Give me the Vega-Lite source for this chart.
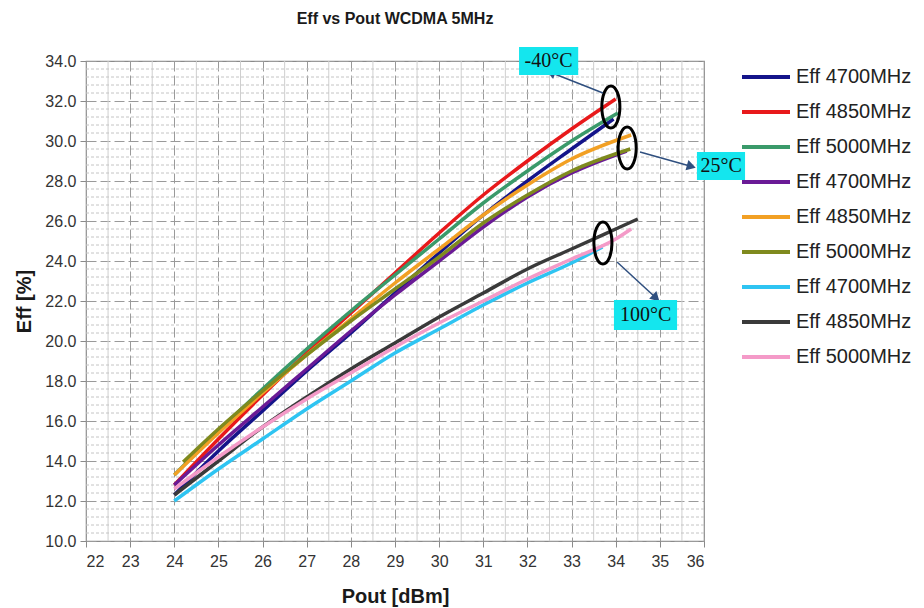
{
  "$schema": "https://vega.github.io/schema/vega-lite/v6.json",
  "width": 618,
  "height": 480,
  "autosize": {"type": "none"},
  "padding": {"left": 86, "top": 61, "right": 220, "bottom": 67},
  "background": "white",
  "config": {
    "view": {"stroke": "#8a8a8a", "strokeWidth": 1.2},
    "font": "Liberation Sans",
    "axisX": {
      "grid": true, "gridColor": "#9a9a9a", "gridDash": [10, 4], "gridWidth": 1,
      "domain": false, "ticks": true, "tickColor": "#8a8a8a", "tickSize": 6,
      "labelFont": "Liberation Sans", "labelFontSize": 16, "labelColor": "#333333", "labelPadding": 6,
      "titleFont": "Liberation Sans", "titleFontSize": 20, "titleFontWeight": "bold", "titleColor": "#1a1a1a",
      "titlePadding": 17
    },
    "axisY": {
      "grid": true, "gridColor": "#9a9a9a", "gridDash": [10, 4], "gridWidth": 1,
      "domain": false, "ticks": true, "tickColor": "#8a8a8a", "tickSize": 6,
      "labelFont": "Liberation Sans", "labelFontSize": 16, "labelColor": "#333333", "labelPadding": 4,
      "titleFont": "Liberation Sans", "titleFontSize": 20, "titleFontWeight": "bold", "titleColor": "#1a1a1a",
      "titlePadding": 10
    }
  },
  "title": {
    "text": "Eff vs Pout  WCDMA 5MHz",
    "font": "Liberation Sans",
    "fontSize": 16,
    "fontWeight": "bold",
    "color": "#1a1a1a",
    "anchor": "middle",
    "offset": 20
  },
  "datasets": {
    "curves": [
      {"series": "Eff 4700MHz|-40°C", "pout": 24, "eff": 12.3},
      {"series": "Eff 4700MHz|-40°C", "pout": 25, "eff": 14.5},
      {"series": "Eff 4700MHz|-40°C", "pout": 26, "eff": 16.5},
      {"series": "Eff 4700MHz|-40°C", "pout": 27, "eff": 18.5},
      {"series": "Eff 4700MHz|-40°C", "pout": 28, "eff": 20.4},
      {"series": "Eff 4700MHz|-40°C", "pout": 29, "eff": 22.4},
      {"series": "Eff 4700MHz|-40°C", "pout": 30, "eff": 24.4},
      {"series": "Eff 4700MHz|-40°C", "pout": 31, "eff": 26.3},
      {"series": "Eff 4700MHz|-40°C", "pout": 32, "eff": 28.0},
      {"series": "Eff 4700MHz|-40°C", "pout": 33, "eff": 29.6},
      {"series": "Eff 4700MHz|-40°C", "pout": 33.95, "eff": 31.1},
      {"series": "Eff 4850MHz|-40°C", "pout": 24, "eff": 12.8},
      {"series": "Eff 4850MHz|-40°C", "pout": 25, "eff": 15.1},
      {"series": "Eff 4850MHz|-40°C", "pout": 26, "eff": 17.3},
      {"series": "Eff 4850MHz|-40°C", "pout": 27, "eff": 19.4},
      {"series": "Eff 4850MHz|-40°C", "pout": 28, "eff": 21.4},
      {"series": "Eff 4850MHz|-40°C", "pout": 29, "eff": 23.4},
      {"series": "Eff 4850MHz|-40°C", "pout": 30, "eff": 25.4},
      {"series": "Eff 4850MHz|-40°C", "pout": 31, "eff": 27.3},
      {"series": "Eff 4850MHz|-40°C", "pout": 32, "eff": 29.0},
      {"series": "Eff 4850MHz|-40°C", "pout": 33, "eff": 30.6},
      {"series": "Eff 4850MHz|-40°C", "pout": 34, "eff": 32.1},
      {"series": "Eff 5000MHz|-40°C", "pout": 24, "eff": 13.3},
      {"series": "Eff 5000MHz|-40°C", "pout": 25, "eff": 15.5},
      {"series": "Eff 5000MHz|-40°C", "pout": 26, "eff": 17.6},
      {"series": "Eff 5000MHz|-40°C", "pout": 27, "eff": 19.6},
      {"series": "Eff 5000MHz|-40°C", "pout": 28, "eff": 21.5},
      {"series": "Eff 5000MHz|-40°C", "pout": 29, "eff": 23.3},
      {"series": "Eff 5000MHz|-40°C", "pout": 30, "eff": 25.1},
      {"series": "Eff 5000MHz|-40°C", "pout": 31, "eff": 26.9},
      {"series": "Eff 5000MHz|-40°C", "pout": 32, "eff": 28.5},
      {"series": "Eff 5000MHz|-40°C", "pout": 33, "eff": 30.0},
      {"series": "Eff 5000MHz|-40°C", "pout": 34.05, "eff": 31.4},
      {"series": "Eff 4700MHz|25°C", "pout": 24, "eff": 12.8},
      {"series": "Eff 4700MHz|25°C", "pout": 25, "eff": 14.8},
      {"series": "Eff 4700MHz|25°C", "pout": 26, "eff": 16.7},
      {"series": "Eff 4700MHz|25°C", "pout": 27, "eff": 18.6},
      {"series": "Eff 4700MHz|25°C", "pout": 28, "eff": 20.5},
      {"series": "Eff 4700MHz|25°C", "pout": 29, "eff": 22.3},
      {"series": "Eff 4700MHz|25°C", "pout": 30, "eff": 24.0},
      {"series": "Eff 4700MHz|25°C", "pout": 31, "eff": 25.7},
      {"series": "Eff 4700MHz|25°C", "pout": 32, "eff": 27.2},
      {"series": "Eff 4700MHz|25°C", "pout": 33, "eff": 28.4},
      {"series": "Eff 4700MHz|25°C", "pout": 34.25, "eff": 29.5},
      {"series": "Eff 4850MHz|25°C", "pout": 24, "eff": 13.3},
      {"series": "Eff 4850MHz|25°C", "pout": 25, "eff": 15.4},
      {"series": "Eff 4850MHz|25°C", "pout": 26, "eff": 17.4},
      {"series": "Eff 4850MHz|25°C", "pout": 27, "eff": 19.3},
      {"series": "Eff 4850MHz|25°C", "pout": 28, "eff": 21.1},
      {"series": "Eff 4850MHz|25°C", "pout": 29, "eff": 22.9},
      {"series": "Eff 4850MHz|25°C", "pout": 30, "eff": 24.6},
      {"series": "Eff 4850MHz|25°C", "pout": 31, "eff": 26.3},
      {"series": "Eff 4850MHz|25°C", "pout": 32, "eff": 27.8},
      {"series": "Eff 4850MHz|25°C", "pout": 33, "eff": 29.1},
      {"series": "Eff 4850MHz|25°C", "pout": 34.35, "eff": 30.3},
      {"series": "Eff 5000MHz|25°C", "pout": 24.2, "eff": 13.95},
      {"series": "Eff 5000MHz|25°C", "pout": 25, "eff": 15.6},
      {"series": "Eff 5000MHz|25°C", "pout": 26, "eff": 17.5},
      {"series": "Eff 5000MHz|25°C", "pout": 27, "eff": 19.3},
      {"series": "Eff 5000MHz|25°C", "pout": 28, "eff": 21.0},
      {"series": "Eff 5000MHz|25°C", "pout": 29, "eff": 22.6},
      {"series": "Eff 5000MHz|25°C", "pout": 30, "eff": 24.2},
      {"series": "Eff 5000MHz|25°C", "pout": 31, "eff": 25.9},
      {"series": "Eff 5000MHz|25°C", "pout": 32, "eff": 27.3},
      {"series": "Eff 5000MHz|25°C", "pout": 33, "eff": 28.5},
      {"series": "Eff 5000MHz|25°C", "pout": 34.33, "eff": 29.6},
      {"series": "Eff 4700MHz|100°C", "pout": 24, "eff": 12.0},
      {"series": "Eff 4700MHz|100°C", "pout": 25, "eff": 13.6},
      {"series": "Eff 4700MHz|100°C", "pout": 26, "eff": 15.1},
      {"series": "Eff 4700MHz|100°C", "pout": 27, "eff": 16.6},
      {"series": "Eff 4700MHz|100°C", "pout": 28, "eff": 18.0},
      {"series": "Eff 4700MHz|100°C", "pout": 29, "eff": 19.4},
      {"series": "Eff 4700MHz|100°C", "pout": 30, "eff": 20.6},
      {"series": "Eff 4700MHz|100°C", "pout": 31, "eff": 21.8},
      {"series": "Eff 4700MHz|100°C", "pout": 32, "eff": 22.9},
      {"series": "Eff 4700MHz|100°C", "pout": 33, "eff": 23.9},
      {"series": "Eff 4700MHz|100°C", "pout": 33.7, "eff": 24.7},
      {"series": "Eff 4850MHz|100°C", "pout": 24, "eff": 12.3},
      {"series": "Eff 4850MHz|100°C", "pout": 25, "eff": 14.0},
      {"series": "Eff 4850MHz|100°C", "pout": 26, "eff": 15.7},
      {"series": "Eff 4850MHz|100°C", "pout": 27, "eff": 17.2},
      {"series": "Eff 4850MHz|100°C", "pout": 28, "eff": 18.6},
      {"series": "Eff 4850MHz|100°C", "pout": 29, "eff": 19.9},
      {"series": "Eff 4850MHz|100°C", "pout": 30, "eff": 21.2},
      {"series": "Eff 4850MHz|100°C", "pout": 31, "eff": 22.4},
      {"series": "Eff 4850MHz|100°C", "pout": 32, "eff": 23.6},
      {"series": "Eff 4850MHz|100°C", "pout": 33, "eff": 24.6},
      {"series": "Eff 4850MHz|100°C", "pout": 34, "eff": 25.6},
      {"series": "Eff 4850MHz|100°C", "pout": 34.5, "eff": 26.1},
      {"series": "Eff 5000MHz|100°C", "pout": 24, "eff": 12.6},
      {"series": "Eff 5000MHz|100°C", "pout": 25, "eff": 14.2},
      {"series": "Eff 5000MHz|100°C", "pout": 26, "eff": 15.7},
      {"series": "Eff 5000MHz|100°C", "pout": 27, "eff": 17.1},
      {"series": "Eff 5000MHz|100°C", "pout": 28, "eff": 18.4},
      {"series": "Eff 5000MHz|100°C", "pout": 29, "eff": 19.7},
      {"series": "Eff 5000MHz|100°C", "pout": 30, "eff": 20.9},
      {"series": "Eff 5000MHz|100°C", "pout": 31, "eff": 22.0},
      {"series": "Eff 5000MHz|100°C", "pout": 32, "eff": 23.1},
      {"series": "Eff 5000MHz|100°C", "pout": 33, "eff": 24.1},
      {"series": "Eff 5000MHz|100°C", "pout": 34, "eff": 25.1},
      {"series": "Eff 5000MHz|100°C", "pout": 34.35, "eff": 25.6}
    ],
    "xminor": [
      {"v": 22.5}, {"v": 23.5}, {"v": 24.5}, {"v": 25.5}, {"v": 26.5}, {"v": 27.5}, {"v": 28.5},
      {"v": 29.5}, {"v": 30.5}, {"v": 31.5}, {"v": 32.5}, {"v": 33.5}, {"v": 34.5}, {"v": 35.5}
    ],
    "yminor": [
      {"v": 10.4}, {"v": 10.8}, {"v": 11.2}, {"v": 11.6},
      {"v": 12.4}, {"v": 12.8}, {"v": 13.2}, {"v": 13.6},
      {"v": 14.4}, {"v": 14.8}, {"v": 15.2}, {"v": 15.6},
      {"v": 16.4}, {"v": 16.8}, {"v": 17.2}, {"v": 17.6},
      {"v": 18.4}, {"v": 18.8}, {"v": 19.2}, {"v": 19.6},
      {"v": 20.4}, {"v": 20.8}, {"v": 21.2}, {"v": 21.6},
      {"v": 22.4}, {"v": 22.8}, {"v": 23.2}, {"v": 23.6},
      {"v": 24.4}, {"v": 24.8}, {"v": 25.2}, {"v": 25.6},
      {"v": 26.4}, {"v": 26.8}, {"v": 27.2}, {"v": 27.6},
      {"v": 28.4}, {"v": 28.8}, {"v": 29.2}, {"v": 29.6},
      {"v": 30.4}, {"v": 30.8}, {"v": 31.2}, {"v": 31.6},
      {"v": 32.4}, {"v": 32.8}, {"v": 33.2}, {"v": 33.6}
    ],
    "ellipses": [
      {"g": "-40°C", "x": 33.89, "y": 31.7},
      {"g": "25°C", "x": 34.26, "y": 29.65},
      {"g": "100°C", "x": 33.71, "y": 24.9}
    ],
    "arrows": [
      {"g": "-40°C", "x": 33.71, "y": 32.4, "x2": 32.56, "y2": 33.4},
      {"g": "25°C", "x": 34.55, "y": 29.45, "x2": 35.68, "y2": 28.75},
      {"g": "100°C", "x": 34.03, "y": 23.95, "x2": 34.89, "y2": 22.2}
    ],
    "labels": [
      {"t": "-40°C", "x": 31.81, "x2": 33.15, "y": 34.7, "y2": 33.3, "cx": 32.48, "cy": 34.0},
      {"t": "25°C", "x": 35.84, "x2": 36.93, "y": 29.45, "y2": 28.05, "cx": 36.39, "cy": 28.75},
      {"t": "100°C", "x": 33.96, "x2": 35.39, "y": 22.05, "y2": 20.55, "cx": 34.68, "cy": 21.3}
    ]
  },
  "layer": [
    {
      "data": {"name": "xminor"},
      "mark": {"type": "rule", "color": "#cfcfcf", "strokeWidth": 1},
      "encoding": {
        "x": {"field": "v", "type": "quantitative", "title": "Pout [dBm]",
              "scale": {"domain": [22, 36], "nice": false, "zero": false},
              "axis": {"values": [22, 23, 24, 25, 26, 27, 28, 29, 30, 31, 32, 33, 34, 35, 36], "format": "d", "tickCount": 30}}
      }
    },
    {
      "data": {"name": "yminor"},
      "mark": {"type": "rule", "color": "#c4c4c4", "strokeWidth": 1, "strokeDash": [3, 2]},
      "encoding": {
        "y": {"field": "v", "type": "quantitative", "title": "Eff [%]",
              "scale": {"domain": [10, 34], "nice": false, "zero": false},
              "axis": {"values": [10, 12, 14, 16, 18, 20, 22, 24, 26, 28, 30, 32, 34], "format": ".1f", "tickCount": 30}}
      }
    },
    {
      "data": {"name": "curves"},
      "mark": {"type": "line", "strokeWidth": 3.5, "interpolate": "monotone", "clip": false},
      "encoding": {
        "x": {"field": "pout", "type": "quantitative", "title": "Pout [dBm]",
              "axis": {"values": [22, 23, 24, 25, 26, 27, 28, 29, 30, 31, 32, 33, 34, 35, 36], "format": "d", "tickCount": 30}},
        "y": {"field": "eff", "type": "quantitative", "title": "Eff [%]",
              "axis": {"values": [10, 12, 14, 16, 18, 20, 22, 24, 26, 28, 30, 32, 34], "format": ".1f", "tickCount": 30}},
        "color": {
          "field": "series", "type": "nominal",
          "scale": {
            "domain": [
              "Eff 4700MHz|-40°C", "Eff 4850MHz|-40°C", "Eff 5000MHz|-40°C",
              "Eff 4700MHz|25°C", "Eff 4850MHz|25°C", "Eff 5000MHz|25°C",
              "Eff 4700MHz|100°C", "Eff 4850MHz|100°C", "Eff 5000MHz|100°C"
            ],
            "range": ["#14148a", "#e8191b", "#3a9a6a", "#6a1a96", "#f2a024", "#7f8a1e", "#2ec4f2", "#3a3a3a", "#f49ac8"]
          },
          "legend": {
            "title": null,
            "orient": "none",
            "legendX": 668,
            "legendY": 4,
            "padding": 0,
            "symbolType": "M -2.4 0 L 2.4 0",
            "symbolSize": 400,
            "symbolStrokeWidth": 4,
            "symbolOpacity": 1,
            "labelOffset": 18,
            "rowPadding": 13,
            "labelFont": "Liberation Sans",
            "labelFontSize": 20,
            "labelColor": "#222222",
            "labelLimit": 300,
            "labelExpr": "split(datum.label, '|')[0]"
          }
        }
      }
    },
    {
      "data": {"name": "ellipses"},
      "mark": {
        "type": "point",
        "shape": "M -0.43 0 A 0.43 1 0 1 0 0.43 0 A 0.43 1 0 1 0 -0.43 0 Z",
        "size": 1764,
        "filled": false,
        "stroke": "#000000",
        "strokeWidth": 3,
        "opacity": 1,
        "clip": false
      },
      "encoding": {
        "x": {"field": "x", "type": "quantitative", "title": "Pout [dBm]"},
        "y": {"field": "y", "type": "quantitative", "title": "Eff [%]"}
      }
    },
    {
      "data": {"name": "arrows"},
      "mark": {"type": "rule", "color": "#2f4f7f", "strokeWidth": 1.5, "clip": false},
      "encoding": {
        "x": {"field": "x", "type": "quantitative", "title": "Pout [dBm]"},
        "y": {"field": "y", "type": "quantitative", "title": "Eff [%]"},
        "x2": {"field": "x2"},
        "y2": {"field": "y2"}
      }
    },
    {
      "data": {"name": "arrows"},
      "transform": [{"filter": "datum.g == '-40°C'"}],
      "mark": {"type": "point", "shape": "triangle", "angle": 291, "size": 110, "filled": true, "color": "#2f4f7f", "opacity": 1, "clip": false},
      "encoding": {
        "x": {"field": "x2", "type": "quantitative", "title": "Pout [dBm]"},
        "y": {"field": "y2", "type": "quantitative", "title": "Eff [%]"}
      }
    },
    {
      "data": {"name": "arrows"},
      "transform": [{"filter": "datum.g == '25°C'"}],
      "mark": {"type": "point", "shape": "triangle", "angle": 106, "size": 110, "filled": true, "color": "#2f4f7f", "opacity": 1, "clip": false},
      "encoding": {
        "x": {"field": "x2", "type": "quantitative", "title": "Pout [dBm]"},
        "y": {"field": "y2", "type": "quantitative", "title": "Eff [%]"}
      }
    },
    {
      "data": {"name": "arrows"},
      "transform": [{"filter": "datum.g == '100°C'"}],
      "mark": {"type": "point", "shape": "triangle", "angle": 133, "size": 110, "filled": true, "color": "#2f4f7f", "opacity": 1, "clip": false},
      "encoding": {
        "x": {"field": "x2", "type": "quantitative", "title": "Pout [dBm]"},
        "y": {"field": "y2", "type": "quantitative", "title": "Eff [%]"}
      }
    },
    {
      "data": {"name": "labels"},
      "mark": {"type": "rect", "color": "#14e6ee", "clip": false},
      "encoding": {
        "x": {"field": "x", "type": "quantitative", "title": "Pout [dBm]"},
        "x2": {"field": "x2"},
        "y": {"field": "y", "type": "quantitative", "title": "Eff [%]"},
        "y2": {"field": "y2"}
      }
    },
    {
      "data": {"name": "labels"},
      "mark": {"type": "text", "font": "Liberation Serif", "fontSize": 20, "color": "#111111", "align": "center", "baseline": "middle", "clip": false},
      "encoding": {
        "x": {"field": "cx", "type": "quantitative", "title": "Pout [dBm]"},
        "y": {"field": "cy", "type": "quantitative", "title": "Eff [%]"},
        "text": {"field": "t"}
      }
    }
  ]
}
